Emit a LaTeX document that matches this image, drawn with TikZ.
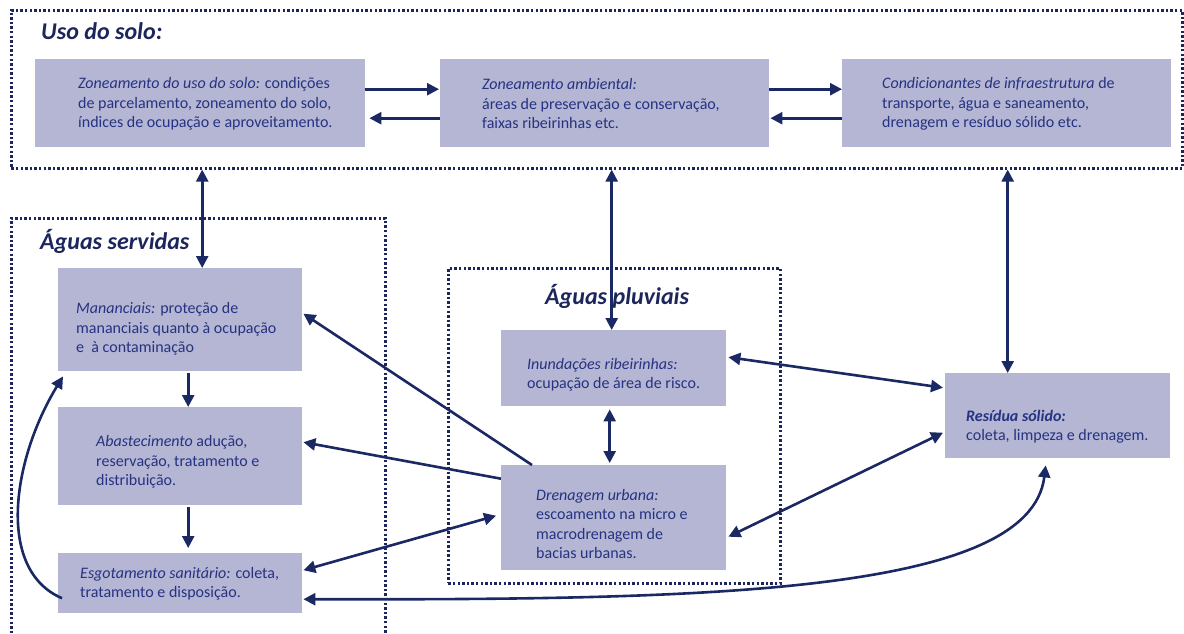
\documentclass[tikz,border=0pt]{standalone}
\usepackage{fontspec}
\setmainfont{Carlito}
\usetikzlibrary{arrows.meta,calc}
\definecolor{boxfill}{RGB}{180,182,211}
\definecolor{txtblue}{RGB}{38,50,130}
\definecolor{navy}{RGB}{28,38,92}
\definecolor{arrowc}{RGB}{26,40,100}
\tikzset{
  box/.style={fill=boxfill, draw=none, inner sep=0pt, anchor=north west},
  frame/.style={draw=navy, line width=2.6pt, dash pattern=on 2.4pt off 2.2pt, inner sep=0pt, anchor=north west},
  body/.style={text=txtblue, anchor=west, align=left, inner sep=0pt, font=\fontsize{16}{19.5}\selectfont},
  ttl/.style={text=navy, anchor=west, inner sep=0pt, font=\fontsize{24}{28}\selectfont\bfseries\itshape},
  conn/.style={draw=arrowc, line width=2.6pt},
  tip/.tip={Triangle[length=12pt,width=12pt]},
  one/.style={conn, -tip},
  two/.style={conn, tip-tip}
}
\begin{document}
\begin{tikzpicture}[x=1pt,y=-1pt]
\useasboundingbox (0,0) rectangle (1184,633);
\fill[white] (0,0) rectangle (1184,633);

% frames
\node[frame, minimum width=1171pt, minimum height=158pt] (uso) at (10,9) {};
\node[frame, minimum width=374pt, minimum height=422pt] (serv) at (10,217) {};
\node[frame, minimum width=332pt, minimum height=315pt] (pluv) at (447,267) {};

% titles
\node[ttl] (tuso) at (41,31) {Uso do solo:};
\node[ttl] (tserv) at (40,241) {Águas servidas};
\node[ttl] (tpluv) at (545,296) {Águas pluviais};

% boxes
\node[box, minimum width=330pt, minimum height=88pt] (A) at (35,59) {};
\node[box, minimum width=329pt, minimum height=88pt] (B) at (440,59) {};
\node[box, minimum width=329pt, minimum height=88pt] (C) at (842,59) {};
\node[box, minimum width=244pt, minimum height=103pt] (man) at (58,268) {};
\node[box, minimum width=244pt, minimum height=98pt] (abast) at (58,407) {};
\node[box, minimum width=244pt, minimum height=60pt] (esg) at (58,553) {};
\node[box, minimum width=225pt, minimum height=76pt] (inund) at (501,330) {};
\node[box, minimum width=225pt, minimum height=105pt] (dren) at (501,465) {};
\node[box, minimum width=225pt, minimum height=85pt] (res) at (945,373) {};

% texts
\node[body] (tA) at (78,104) {\textit{Zoneamento do uso do solo:} condições\\de parcelamento, zoneamento do solo,\\índices de ocupação e aproveitamento.};
\node[body] (tB) at (482,104) {\textit{Zoneamento ambiental:}\\áreas de preservação e conservação,\\faixas ribeirinhas etc.};
\node[body] (tC) at (882,104) {\textit{Condicionantes de infraestrutura} de\\transporte, água e saneamento,\\drenagem e resíduo sólido etc.};
\node[body] (tman) at (76,329) {\textit{Mananciais:} proteção de\\mananciais quanto à ocupação\\e\ \ à contaminação};
\node[body] (tabast) at (96,462) {\textit{Abastecimento} adução,\\reservação, tratamento e\\distribuição.};
\node[body] (tesg) at (80,584) {\textit{Esgotamento sanitário:} coleta,\\tratamento e disposição.};
\node[body] (tinund) at (527,375) {\textit{Inundações ribeirinhas:}\\ocupação de área de risco.};
\node[body] (tdren) at (536,524) {\textit{Drenagem urbana:}\\escoamento na micro e\\macrodrenagem de\\bacias urbanas.};
\node[body] (tres) at (966,427) {\textbf{\textit{Resídua sólido:}}\\coleta, limpeza e drenagem.};

% top row arrows
\draw[one] ([yshift=14pt]A.east) -- ([yshift=14pt,xshift=-1pt]B.west);
\draw[one] ([yshift=-15pt]B.west) -- ([yshift=-15pt,xshift=4pt]A.east);
\draw[one] ([yshift=14pt]B.east) -- ([yshift=14pt]C.west);
\draw[one] ([yshift=-15pt]C.west) -- ([yshift=-15pt,xshift=1pt]B.east);

% vertical links from Uso do solo
\draw[two] ([xshift=2pt]A.south |- uso.south) -- ([xshift=2pt]A.south |- man.north);
\draw[two] ([xshift=-2pt]inund.north |- uso.south) -- ([xshift=-2pt]inund.north);
\draw[two] ([xshift=1pt]C.south |- uso.south) -- ([xshift=1pt]C.south |- res.north);

% aguas servidas chain
\draw[one] ([xshift=8pt,yshift=-2pt]man.south) -- ([xshift=8pt]abast.north);
\draw[one] ([xshift=8pt,yshift=-2pt]abast.south) -- ([xshift=8pt,yshift=5pt]esg.north);
\draw[one] ([xshift=4pt,yshift=-15pt]esg.west) .. controls (-4,570) and (12,460) .. ([xshift=5pt,yshift=-5pt]man.south west);

% pluviais
\draw[two] ([xshift=-4pt,yshift=-3pt]inund.south) -- ([xshift=-4pt,yshift=2pt]dren.north);

% cross links
\draw[one] ([xshift=31pt]dren.north west) -- ([xshift=1pt,yshift=6pt]man.east);
\draw[one] ([yshift=39pt]dren.west) -- ([xshift=1pt,yshift=14pt]abast.east);
\draw[two] ([xshift=1pt,yshift=13pt]esg.east) -- ([xshift=-5pt,yshift=2pt]dren.west);
\draw[two] ([xshift=2pt,yshift=11pt]inund.east) -- ([xshift=-2pt,yshift=28pt]res.west);
\draw[two] ([xshift=2pt,yshift=-19pt]dren.east) -- ([xshift=-2pt,yshift=-17pt]res.west);
\draw[two] ([xshift=1pt,yshift=-16pt]esg.east) .. controls (700,600) and (1030,595) .. ([xshift=-12pt,yshift=-7pt]res.south);
\end{tikzpicture}
\end{document}
